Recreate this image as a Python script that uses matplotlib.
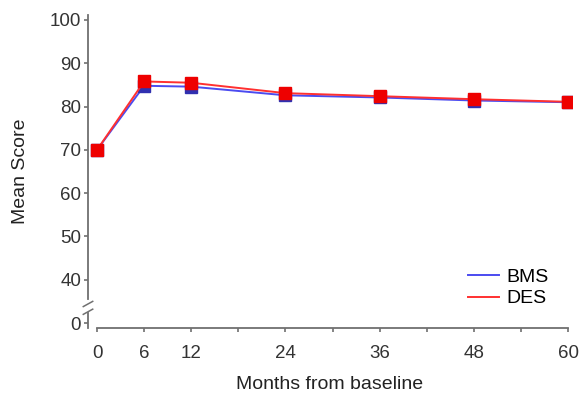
import matplotlib
matplotlib.use("Agg")
import matplotlib.pyplot as plt

# data
months = [0, 6, 12, 24, 36, 48, 60]
bms = [70.0, 84.8, 84.6, 82.6, 82.1, 81.4, 81.0]
des = [70.0, 85.8, 85.5, 83.1, 82.4, 81.7, 81.1]

x_ticks = [0, 6, 12, 18, 24, 30, 36, 42, 48, 54, 60]
x_labels = ["0", "6", "12", "", "24", "", "36", "", "48", "", "60"]
# the axis is broken: "0" is drawn just below 40
y_ticks = [30, 40, 50, 60, 70, 80, 90, 100]
y_labels = ["0", "40", "50", "60", "70", "80", "90", "100"]

plt.rcParams["font.family"] = ["Liberation Sans", "DejaVu Sans"]
grey = "#707070"

fig = plt.figure(figsize=(5.81, 3.98), dpi=100)
ax = fig.add_axes([88 / 581, 70 / 398, 484 / 581, 313 / 398])

ax.plot(months, bms, color="#4b4bf0", lw=1.4, marker="s", ms=8.5,
        mfc="#3030b0", mec="#3030b0", label="BMS")
ax.plot(months, des, color="#ff3030", lw=1.4, marker="s", ms=8.5,
        mfc="#ee0000", mec="#ee0000", label="DES")

ax.set_xlim(-1.15, 60.5)
ax.set_ylim(28.85, 101.15)
ax.set_xticks(x_ticks)
ax.set_xticklabels(x_labels)
ax.set_yticks(y_ticks)
ax.set_yticklabels(y_labels)

for s in ["top", "right"]:
    ax.spines[s].set_visible(False)
ax.spines["bottom"].set_bounds(0, 60)
ax.spines["left"].set_bounds(35.5, 101.15)
for s in ["bottom", "left"]:
    ax.spines[s].set_color(grey)
    ax.spines[s].set_linewidth(1.3)
ax.tick_params(colors=grey, labelcolor="#333333", labelsize=13.5,
               length=3, width=1.2)
ax.tick_params(axis="x", pad=9)
ax.tick_params(axis="y", pad=2)

# axis break on the left spine
ax.plot([-1.15, -1.15], [28.85, 32.3], color=grey, lw=1.3, clip_on=False)
for yb in [32.6, 34.4]:
    ax.plot([-1.75, -0.55], [yb - 0.6, yb + 0.6], color=grey, lw=1.1,
            clip_on=False)

ax.set_xlabel("Months from baseline", fontsize=14, color="#222222",
              labelpad=10)
ax.set_ylabel("Mean Score", fontsize=14, color="#222222", labelpad=15)

leg = ax.legend(loc="lower right", bbox_to_anchor=(0.987, 0.01), frameon=False,
                fontsize=14, handlelength=1.6, handletextpad=0.35,
                labelspacing=0.2)
for h in leg.legend_handles:
    h.set_marker("")

fig.savefig("out.png", dpi=100)
